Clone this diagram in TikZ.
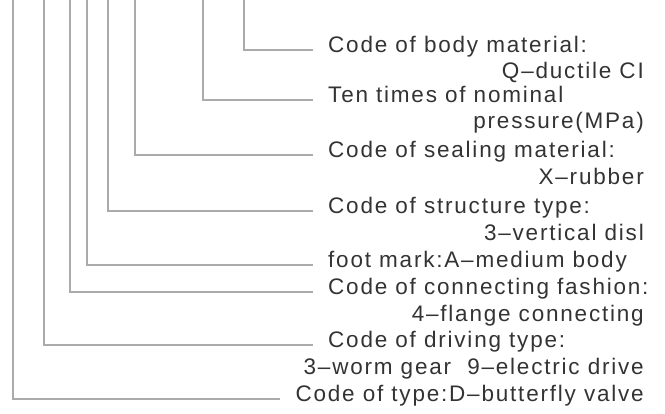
\documentclass[tikz,border=0pt]{standalone}
\usepackage{fontspec}
\setmainfont{Liberation Sans}[LetterSpace=8]
\usepackage{tikz}

\tikzset{
  lead/.style={draw=black!33, line width=1.3pt},
  code/.style={anchor=west, inner sep=0pt, text height=0.75em, text depth=0.25em, text=black!80},
  sub/.style={anchor=east, inner sep=0pt, text height=0.75em, text depth=0.25em, text=black!80}
}

\begin{document}
\begin{tikzpicture}[x=1pt, y=-1pt, font=\fontsize{22.5}{27}\selectfont]

	\useasboundingbox (0,0) rectangle (665,414);

	% taps on the type code above
	\coordinate (tbody)  at (244,0);
	\coordinate (tpress) at (203,0);
	\coordinate (tseal)  at (135,0);
	\coordinate (tstruc) at (108,0);
	\coordinate (tfoot)  at (87,0);
	\coordinate (tconn)  at (70,0);
	\coordinate (tdrive) at (44,0);
	\coordinate (ttype)  at (13,0);

	\node[code] (body)   at (328,50)  {Code of body material:};
	\node[sub]  (body2)  at (644,76)  {Q--ductile CI};
	\node[code] (press)  at (328,100) {Ten times of nominal};
	\node[sub]  (press2) at (644,126) {pressure(MPa)};
	\node[code] (seal)   at (328,155) {Code of sealing material:};
	\node[sub]  (seal2)  at (644,182) {X--rubber};
	\node[code] (struc)  at (328,211) {Code of structure type:};
	\node[sub]  (struc2) at (644,238) {3--vertical disl};
	\node[code] (foot)   at (328,265) {foot mark:A--medium body};
	\node[code] (conn)   at (328,292) {Code of connecting fashion:};
	\node[sub]  (conn2)  at (644,319) {4--flange connecting};
	\node[code] (drive)  at (328,345) {Code of driving type:};
	\node[sub]  (drive2) at (644,372) {3--worm gear\ \ 9--electric drive};
	\node[sub]  (type)   at (644,399) {Code of type:D--butterfly valve};

	\draw[lead] (tbody)  |- ([xshift=-15pt]body.west);
	\draw[lead] (tpress) |- ([xshift=-15pt]press.west);
	\draw[lead] (tseal)  |- ([xshift=-15pt]seal.west);
	\draw[lead] (tstruc) |- ([xshift=-15pt]struc.west);
	\draw[lead] (tfoot)  |- ([xshift=-15pt]foot.west);
	\draw[lead] (tconn)  |- ([xshift=-15pt]conn.west);
	\draw[lead] (tdrive) |- ([xshift=-15pt]drive.west);
	\draw[lead] (ttype)  |- ([xshift=-15pt]type.west);

\end{tikzpicture}
\end{document}
